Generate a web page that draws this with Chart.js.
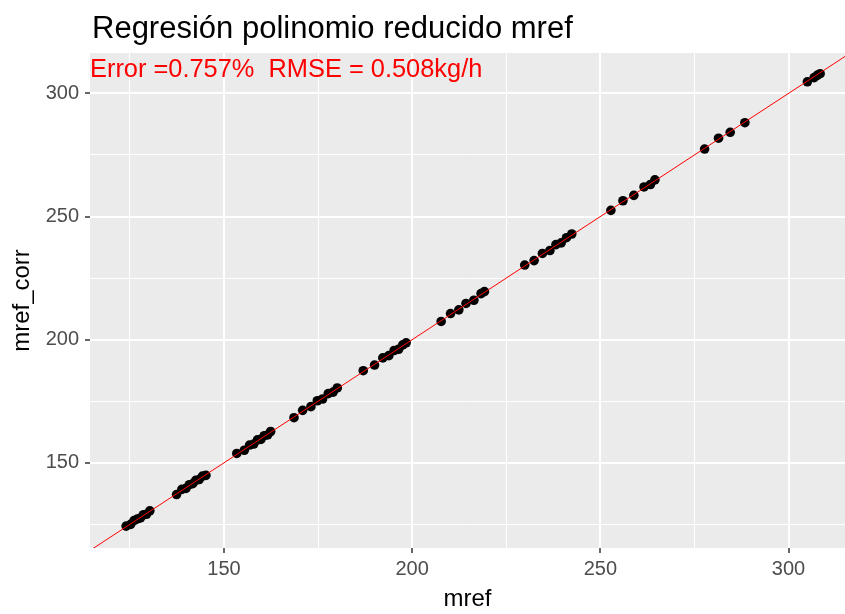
<!DOCTYPE html>
<html>
<head>
<meta charset="utf-8">
<script src="https://cdn.jsdelivr.net/npm/chart.js"></script>
<style>
  body { margin: 0; background: #fff; }
  #wrap { width: 845px; height: 614px; }
</style>
</head>
<body>
<div id="wrap"><canvas id="chart" width="845" height="614"></canvas></div>
<script>
const titleText = 'Regresión polinomio reducido mref'
const noteText = 'Error =0.757%  RMSE = 0.508kg/h'

const mref = [124.0, 125.2, 126.1, 127.0, 127.8, 128.6, 129.4, 130.3,
  137.4, 138.8, 139.9, 140.8, 141.7, 142.5, 143.4, 144.3, 145.2,
  153.4, 155.4, 156.8, 157.9, 158.9, 159.8, 160.7, 161.6, 162.4,
  168.6, 170.9, 173.1, 174.8, 176.2, 177.7, 179.0, 180.1,
  187.0, 190.0, 192.2, 193.8, 195.2, 196.4, 197.5, 198.4,
  207.7, 210.2, 212.4, 214.3, 216.4, 218.3, 219.2,
  229.9, 232.4, 234.6, 236.6, 238.2, 239.6, 241.0, 242.4,
  252.8, 256.0, 258.9, 261.6, 263.3, 264.5,
  277.7, 281.4, 284.5, 288.4,
  305.0, 306.8, 307.6, 308.4]

const mrefCorr = [124.3, 125.0, 126.5, 127.2, 127.6, 128.9, 129.1, 130.5,
  137.1, 139.2, 139.6, 141.1, 141.5, 142.9, 143.2, 144.6, 144.9,
  153.8, 155.1, 157.2, 157.6, 159.3, 159.5, 161.0, 161.3, 162.7,
  168.3, 171.3, 172.8, 175.2, 175.9, 178.1, 178.7, 180.4,
  187.4, 189.7, 192.6, 193.5, 195.6, 196.1, 197.9, 198.7,
  207.4, 210.6, 212.1, 214.7, 216.0, 218.7, 219.5,
  230.3, 232.1, 235.0, 236.2, 238.6, 239.3, 241.4, 242.9,
  252.5, 256.4, 258.6, 262.0, 263.0, 264.9,
  277.4, 281.8, 284.2, 288.1,
  304.7, 306.4, 307.3, 308.0]

// y = x reference line
const lineX = [100, 330]
const lineY = [100, 330]

const xTicks = [125, 150, 175, 200, 225, 250, 275, 300]
const yTicks = [125, 150, 175, 200, 225, 250, 275, 300]
const xRange = [114.4, 315]
const yRange = [115.4, 316.4]

const isMajor = v => v % 50 === 0

// grey panel + title/annotation text, ggplot style
const ggPanel = {
  id: 'ggPanel',
  beforeDraw(chart) {
    const { ctx, chartArea: a } = chart
    ctx.save()
    ctx.fillStyle = '#EBEBEB'
    ctx.fillRect(a.left, a.top, a.right - a.left, a.bottom - a.top)
    ctx.restore()
  },
  afterDraw(chart) {
    const { ctx, chartArea: a } = chart
    ctx.save()
    ctx.textAlign = 'left'
    ctx.textBaseline = 'alphabetic'
    ctx.fillStyle = '#000'
    ctx.font = '31px "Liberation Sans", Arial, sans-serif'
    ctx.fillText(titleText, a.left + 2, 38)
    ctx.fillStyle = '#FF0000'
    ctx.font = '25.4px "Liberation Sans", Arial, sans-serif'
    ctx.fillText(noteText, a.left, 77)
    ctx.restore()
  }
}

const gridOpts = {
  color: '#FFFFFF',
  lineWidth: c => (c.tick && isMajor(c.tick.value)) ? 2 : 1,
  tickColor: c => (c.tick && isMajor(c.tick.value)) ? '#333333' : 'rgba(0,0,0,0)',
  tickLength: 5,
  tickWidth: 1.5
}

new Chart(document.getElementById('chart'), {
  type: 'scatter',
  data: {
    datasets: [
      {
        type: 'line',
        data: lineX.map((x, i) => ({ x: x, y: lineY[i] })),
        borderColor: '#FF0000',
        borderWidth: 1,
        pointRadius: 0,
        order: 0
      },
      {
        data: mref.map((x, i) => ({ x: x, y: mrefCorr[i] })),
        backgroundColor: '#000000',
        borderWidth: 0,
        pointRadius: 4.8,
        order: 1
      }
    ]
  },
  options: {
    responsive: false,
    animation: false,
    layout: { autoPadding: false, padding: { top: 53, right: 0, left: 0, bottom: 0 } },
    plugins: { legend: { display: false }, tooltip: { enabled: false } },
    scales: {
      x: {
        type: 'linear',
        min: xRange[0],
        max: xRange[1],
        afterBuildTicks: s => { s.ticks = xTicks.map(v => ({ value: v })) },
        afterFit: s => { s.height = 66; s.paddingRight = 0; s.paddingLeft = 0 },
        border: { display: false },
        grid: gridOpts,
        ticks: {
          color: '#4D4D4D',
          font: { family: 'Liberation Sans', size: 20 },
          padding: 4,
          maxRotation: 0,
          callback: v => isMajor(v) ? v : ''
        },
        title: {
          display: true,
          text: 'mref',
          color: '#000',
          font: { family: 'Liberation Sans', size: 24 },
          padding: { top: 0, bottom: 0 }
        }
      },
      y: {
        type: 'linear',
        min: yRange[0],
        max: yRange[1],
        afterBuildTicks: s => { s.ticks = yTicks.map(v => ({ value: v })) },
        afterFit: s => { s.width = 90; s.paddingTop = 0; s.paddingBottom = 0 },
        border: { display: false },
        grid: gridOpts,
        ticks: {
          color: '#4D4D4D',
          font: { family: 'Liberation Sans', size: 20 },
          padding: 6,
          callback: v => isMajor(v) ? v : ''
        },
        title: {
          display: true,
          text: 'mref_corr',
          color: '#000',
          font: { family: 'Liberation Sans', size: 24 },
          padding: { top: 8, bottom: 0 }
        }
      }
    }
  },
  plugins: [ggPanel]
})
</script>
</body>
</html>
